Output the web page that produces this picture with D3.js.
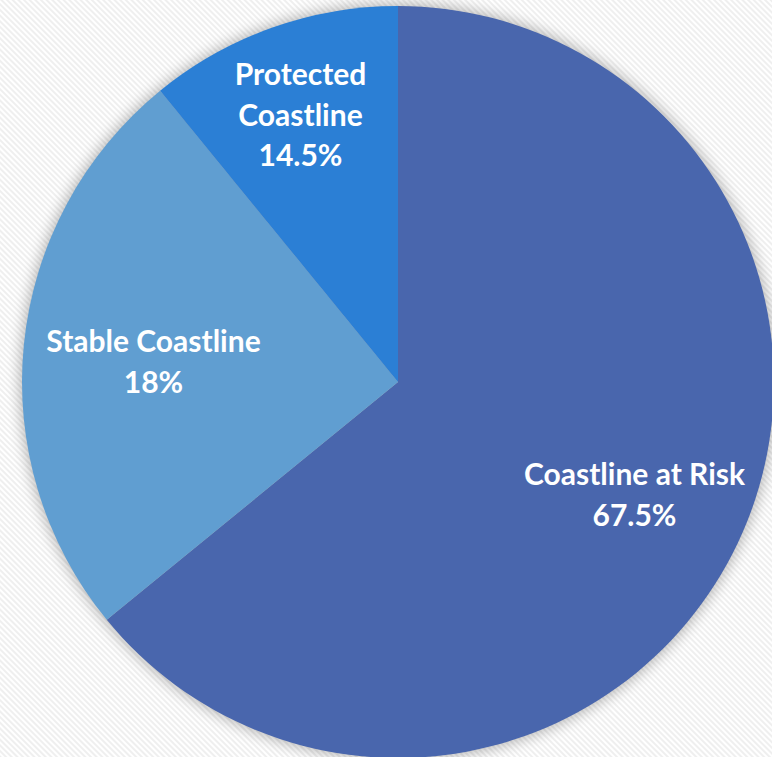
<!DOCTYPE html>
<html><head><meta charset="utf-8">
<script src="https://cdn.jsdelivr.net/npm/d3@7"></script>
<style>html,body{margin:0;padding:0;background:#fff;overflow:hidden}</style>
</head><body>
<script>
const categories = ["Coastline at Risk", "Stable Coastline", "Protected Coastline"];
const shares = [64.1, 25.0, 10.9];          // slice sizes as drawn
const percentLabels = ["67.5%", "18%", "14.5%"]; // labels as printed
const labelLines = [["Coastline at Risk"], ["Stable Coastline"], ["Protected", "Coastline"]];
const colors = ["#4966AD", "#609ED1", "#2B7FD5"];

const W = 772, H = 757;
const cx = 398, cy = 382, R = 376;

const svg = d3.select("body").append("svg").attr("width", W).attr("height", H);
const defs = svg.append("defs");
const pat = defs.append("pattern").attr("id", "stripes").attr("patternUnits", "userSpaceOnUse")
  .attr("width", 4).attr("height", 4).attr("patternTransform", "rotate(-45)");
pat.append("rect").attr("width", 4).attr("height", 4).attr("fill", "#ffffff");
pat.append("rect").attr("width", 2).attr("height", 4).attr("fill", "#efefef");

const f = defs.append("filter").attr("id", "glow").attr("x", "-20%").attr("y", "-20%").attr("width", "140%").attr("height", "140%");
f.append("feGaussianBlur").attr("stdDeviation", 7);

svg.append("rect").attr("width", W).attr("height", H).attr("fill", "url(#stripes)");

const g = svg.append("g").attr("transform", `translate(${cx},${cy})`);
g.append("circle").attr("r", R + 2).attr("fill", "#000").attr("opacity", 0.28).attr("filter", "url(#glow)");

const pie = d3.pie().sort(null).value(d => d)(shares);
const arc = d3.arc().innerRadius(0).outerRadius(R);
g.selectAll("path.slice").data(pie).enter().append("path")
  .attr("class", "slice").attr("d", arc).attr("fill", (d, i) => colors[i]);

const labelPos = [[236.5, 103], [-244.5, -30], [-97.5, -297]];
const fs = 30, lh = 40.5;
pie.forEach((d, i) => {
  const lines = labelLines[i].concat([percentLabels[i]]);
  const t = g.append("text").attr("text-anchor", "middle")
    .attr("font-family", "Lato, 'Open Sans', sans-serif").attr("font-weight", "bold")
    .attr("font-size", fs).attr("fill", "#fff");
  lines.forEach((l, j) => {
    t.append("tspan").attr("x", labelPos[i][0]).attr("y", labelPos[i][1] + j * lh).text(l);
  });
});
</script>
</body></html>
